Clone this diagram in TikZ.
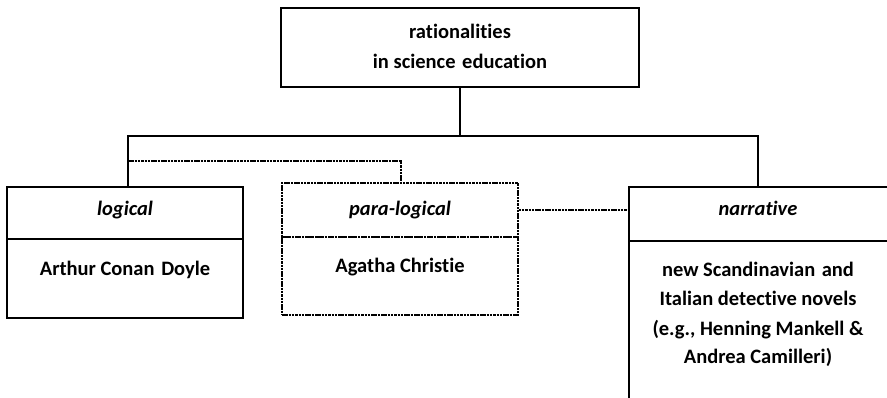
\documentclass[tikz,border=0pt]{standalone}
\usepackage{fontspec}
\setmainfont{Carlito}[Ligatures=NoCommon]
\newcommand{\widegap}{\ \hspace{2pt}}
\begin{document}
\begin{tikzpicture}[x=1pt,y=-1pt,
  solidbox/.style={draw=black, line width=2pt, inner sep=0pt},
  dotbox/.style={draw=black, line width=1.3pt, dash pattern=on 2.5pt off 0.8pt, inner sep=0pt},
  link/.style={draw=black, line width=2pt},
  dotlink/.style={draw=black, line width=1.3pt, dash pattern=on 2.5pt off 0.8pt},
  label/.style={font=\fontsize{20.5}{24}\selectfont\bfseries, inner sep=0pt, anchor=base},
  tag/.style={label, font=\fontsize{20.5}{24}\selectfont\bfseries\itshape}
]
\useasboundingbox (0,0) rectangle (887,397);
\clip (0,0) rectangle (887,397);

% top box
\node[solidbox, minimum width=358pt, minimum height=79pt] (top) at (460,47.5) {};
\node[label] (t1) at (460,38) {rationalities};
\node[label] (t2) at (460,68) {in science\widegap education};

% logical
\node[solidbox, minimum width=236pt, minimum height=52pt] (logH) at (125,213) {};
\node[solidbox, minimum width=236pt, minimum height=79pt] (logB) at (125,278.5) {};
\node[tag] (logT) at (125,215) {logical};
\node[label] (logX) at (125,275) {Arthur Conan\widegap Doyle};

% para-logical
\node[dotbox, minimum width=236pt, minimum height=54pt] (parH) at (400,210) {};
\node[dotbox, minimum width=236pt, minimum height=78pt] (parB) at (400,276) {};
\node[tag] (parT) at (400,215) {para-logical};
\node[label] (parX) at (400,272) {Agatha Christie};

% narrative (runs past the page edge)
\node[solidbox, minimum width=300pt, minimum height=54pt] (narH) at (779,214) {};
\node[solidbox, minimum width=300pt, minimum height=200pt] (narB) at (779,341) {};
\node[tag] (narT) at (758,215) {narrative};
\node[label] (narX1) at (758,276) {new Scandinavian\widegap and};
\node[label] (narX2) at (758,305.5) {Italian detective novels};
\node[label] (narX3) at (758,335) {(e.g., Henning Mankell \&};
\node[label] (narX4) at (758,363.5) {Andrea Camilleri)};

% tree connectors
\coordinate (busL) at (128,136);
\coordinate (busR) at (758,136);
\draw[link] (top.south) -- (top.south |- busL);
\draw[link] (busL |- logH.north) -- (busL) -- (busR) -- (busR |- narH.north);

% dotted relations
\coordinate (dotL) at (128,161);
\coordinate (dotR) at (401,161);
\draw[dotlink] (dotL) -- (dotR) -- (dotR |- parH.north);
\draw[dotlink] (parH.east) -- (parH.east -| narH.west);
\end{tikzpicture}
\end{document}
